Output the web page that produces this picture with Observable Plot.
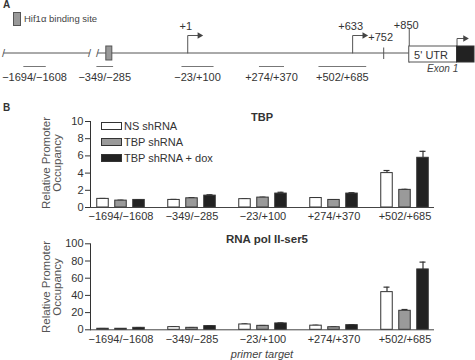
<!DOCTYPE html>
<html><head><meta charset="utf-8">
<script src="https://cdn.jsdelivr.net/npm/d3@7"></script>
<script src="https://cdn.jsdelivr.net/npm/@observablehq/plot@0.6"></script>
<style>
html,body{margin:0;padding:0;background:#fff;}
#fig{position:relative;width:475px;height:360px;font-family:"Liberation Sans",Arial,sans-serif;color:#333;overflow:hidden;background:#fff;}
#fig .abs{position:absolute;white-space:nowrap;}
#fig svg{position:absolute;left:0;}
</style></head><body><div id="fig"></div>
<script>
// ---------- Data ----------
const primerTargets = ["−1694/−1608", "−349/−285", "−23/+100", "+274/+370", "+502/+685"];
const primerStart = [-1694, -349, -23, 274, 502];
const primerEnd = [-1608, -285, 100, 370, 685];
const tssLabels = ["+1", "+633"];
const tssPos = [1, 633];
const siteLabels = ["+752", "+850"];
const sitePos = [752, 850];
const hifSite = [-311, -288];
const breakPos = [-1770, -1440, -345];
const utrStart = 850, exonStart = 1033, exonEnd = 1100;

const seriesNames = ["NS shRNA", "TBP shRNA", "TBP shRNA + dox"];
// TBP occupancy
const tbpNS = [1.0, 0.88, 0.97, 1.1, 4.0];
const tbpNSErr = [0.05, 0.06, 0.05, 0.05, 0.3];
const tbpKD = [0.8, 1.07, 1.15, 0.88, 2.05];
const tbpKDErr = [0.05, 0.08, 0.05, 0.04, 0.06];
const tbpDox = [0.88, 1.38, 1.62, 1.62, 5.78];
const tbpDoxErr = [0.04, 0.1, 0.15, 0.1, 0.75];
// RNA pol II-ser5 occupancy
const polNS = [1.2, 3.1, 6.2, 4.8, 43.8];
const polNSErr = [0.3, 0.4, 0.6, 0.5, 5.8];
const polKD = [1.2, 2.3, 4.6, 3.0, 22.1];
const polKDErr = [0.2, 0.3, 0.4, 0.3, 1.5];
const polDox = [2.3, 4.3, 7.4, 5.4, 70.2];
const polDoxErr = [0.3, 0.5, 0.6, 0.5, 8.5];

// ---------- Helpers ----------
const fig = document.getElementById("fig");
const FONT = '"Liberation Sans", Arial, sans-serif';
function addText(txt, left, top, opts = {}) {
  const d = document.createElement("div");
  d.className = "abs";
  d.textContent = txt;
  d.style.left = left + "px";
  d.style.top = top + "px";
  d.style.fontSize = (opts.size || 11) + "px";
  d.style.lineHeight = (opts.lh || 1.15);
  if (opts.bold) d.style.fontWeight = "bold";
  if (opts.italic) d.style.fontStyle = "italic";
  if (opts.color) d.style.color = opts.color;
  d.style.transform = opts.transform || (opts.center ? "translate(-50%,-50%)" : "translate(0,-50%)");
  if (opts.align) d.style.textAlign = opts.align;
  if (opts.white) d.style.whiteSpace = opts.white;
  fig.appendChild(d);
  return d;
}
function addBox(left, top, w, h, fill, stroke) {
  const d = document.createElement("div");
  d.className = "abs";
  Object.assign(d.style, {left: left + "px", top: top + "px", width: w + "px", height: h + "px",
    background: fill, border: "1px solid " + stroke, boxSizing: "border-box"});
  fig.appendChild(d);
}

// ---------- Panel A : promoter diagram ----------
// genomic position -> display coordinate (the upstream stretch is drawn with a break)
const gapShift = 1065;
const P = bp => (bp <= breakPos[1] ? bp + gapShift : bp);
const L = 52.5; // track level of the genomic line
const segs = [{a: breakPos[0], b: breakPos[1]}, {a: breakPos[2], b: utrStart}];
const primers = primerTargets.map((t, i) => ({t, s: primerStart[i], e: primerEnd[i]}));
const arrowRows = [];
tssPos.forEach((p, i) => {
  arrowRows.push({id: i, x: p, y: L}, {id: i, x: p, y: 35}, {id: i, x: p + 40, y: 35});
});
arrowRows.push({id: 9, x: exonStart, y: 46}, {id: 9, x: exonStart, y: 38}, {id: 9, x: exonStart + 26, y: 38});
const heads = tssPos.map(p => ({x: p + 45, y: 35})).concat([{x: exonStart + 31, y: 38}]);

const diagram = Plot.plot({
  width: 475, height: 100, margin: 0,
  x: {domain: [P(breakPos[0]), exonEnd], range: [3, 474], axis: null},
  y: {domain: [0, 100], range: [0, 100], axis: null},
  style: {fontFamily: FONT, fontSize: "11px", color: "#333", background: "transparent", overflow: "visible"},
  marks: [
    Plot.link(segs, {x1: d => P(d.a), x2: d => P(d.b), y1: () => L, y2: () => L, stroke: "#555", strokeWidth: 1}),
    Plot.text(breakPos, {x: d => P(d), y: () => L, text: () => "/", fontSize: 11, fill: "#555"}),
    Plot.rect([hifSite], {x1: d => P(d[0]), x2: d => P(d[1]), y1: () => 46, y2: () => 60, fill: "#999", stroke: "#555"}),
    Plot.line(arrowRows, {x: d => P(d.x), y: "y", z: "id", stroke: "#555", strokeWidth: 1}),
    Plot.dot(heads, {x: d => P(d.x), y: "y", symbol: "triangle", rotate: 90, r: 2.4, fill: "#444", stroke: "none"}),
    Plot.text(tssPos, {x: d => P(d), y: () => 26, text: (d, i) => tssLabels[i], dx: -2, fill: "#333", fontSize: 11}),
    Plot.link(sitePos.slice(0, 1), {x1: d => P(d), x2: d => P(d), y1: () => 47, y2: () => 58.5, stroke: "#555"}),
    Plot.link(sitePos.slice(1), {x1: d => P(d), x2: d => P(d), y1: () => 28, y2: () => 62, stroke: "#555"}),
    Plot.text(sitePos, {x: d => P(d), y: (d, i) => i === 0 ? 36.5 : 25, text: (d, i) => siteLabels[i], dx: -3, fill: "#333", fontSize: 11}),
    Plot.rect([[utrStart, exonStart]], {x1: d => P(d[0]), x2: d => P(d[1]), y1: () => 46, y2: () => 62, fill: "#fff", stroke: "#555"}),
    Plot.rect([[exonStart, exonEnd]], {x1: d => P(d[0]), x2: d => P(d[1]), y1: () => 46, y2: () => 62, fill: "#222", stroke: "#333"}),
    Plot.text(["5' UTR"], {x: () => P((utrStart + exonStart) / 2 - 8), y: () => 54.5, text: d => d, fill: "#333", fontSize: 11}),
    Plot.text(["Exon 1"], {x: () => P(exonStart - 55), y: () => 68, text: d => d, fill: "#444", fontSize: 10, fontStyle: "italic"}),
    Plot.link(primers, {x1: d => P(d.s), x2: d => P(d.e), y1: () => 66, y2: () => 66, stroke: "#777"}),
    Plot.text(primers, {x: d => (P(d.s) + P(d.e)) / 2, y: () => 77, text: "t", fill: "#333", fontSize: 11})
  ]
});
diagram.style.top = "0px";
fig.appendChild(diagram);

addText("A", 3, 5, {bold: true, size: 10});
addBox(13, 12, 8, 14, "#999", "#555");
addText("Hif1α binding site", 24, 19, {size: 9.5, color: "#444"});
addText("B", 3, 108, {bold: true, size: 10});

// ---------- Panel B : bar charts ----------
const fills = ["#ffffff", "#9a9a9a", "#222222"];
const offsets = [-18, 0, 18];
function barChart(values, errors, yMax, height, marginTop, marginBottom) {
  const marks = [];
  seriesNames.forEach((s, i) => {
    const rows = primerTargets.map((g, j) => ({g, v: values[i][j], e: errors[i][j]}));
    marks.push(Plot.ruleX(rows, {x: "g", y1: "v", y2: d => d.v + d.e, dx: offsets[i], stroke: "#333", strokeWidth: 1.2}));
    marks.push(Plot.tickY(rows, {x: "g", y: d => d.v + d.e, dx: offsets[i], insetLeft: 32.5, insetRight: 32.5, stroke: "#333", strokeWidth: 1.2}));
    marks.push(Plot.barY(rows, {x: "g", y: "v", dx: offsets[i], insetLeft: 29.75, insetRight: 29.75, fill: fills[i], stroke: "#333", strokeWidth: 1}));
  });
  marks.push(Plot.ruleY([0], {stroke: "#444"}));
  return Plot.plot({
    width: 475, height, marginLeft: 90, marginRight: 41, marginTop, marginBottom,
    x: {domain: primerTargets, range: [83.5, 441], padding: 0, tickSize: 0, tickPadding: 5, label: null},
    y: {domain: [0, yMax], ticks: 5, tickSize: 5, tickPadding: 2, line: true, label: null},
    style: {fontFamily: FONT, fontSize: "11px", color: "#333", background: "transparent", overflow: "visible"},
    marks
  });
}
const top1 = barChart([tbpNS, tbpKD, tbpDox], [tbpNSErr, tbpKDErr, tbpDoxErr], 10, 120, 11, 23);
top1.style.top = "110px";
fig.appendChild(top1);
const bot1 = barChart([polNS, polKD, polDox], [polNSErr, polKDErr, polDoxErr], 100, 116, 11.3, 18.7);
bot1.style.top = "232px";
fig.appendChild(bot1);

// titles
addText("TBP", 262, 117, {bold: true, center: true, size: 11});
addText("RNA pol II-ser5", 267, 240, {bold: true, center: true, size: 11.5});
// legend
const legendY = [125.5, 141.5, 157.5];
seriesNames.forEach((s, i) => {
  addBox(101, legendY[i] - 3.5, 21, 8, fills[i], "#333");
  addText(s, 124, legendY[i], {size: 11});
});
// y axis labels
[163, 287].forEach(cy => {
  addText("Relative Promoter\nOccupancy", 52, cy, {size: 11.5, lh: "11px", color: "#555",
    align: "center", white: "pre", transform: "translate(-50%,-50%) rotate(-90deg)"});
});
addText("primer target", 262, 354, {italic: true, center: true, size: 11, color: "#444"});
</script></body></html>
